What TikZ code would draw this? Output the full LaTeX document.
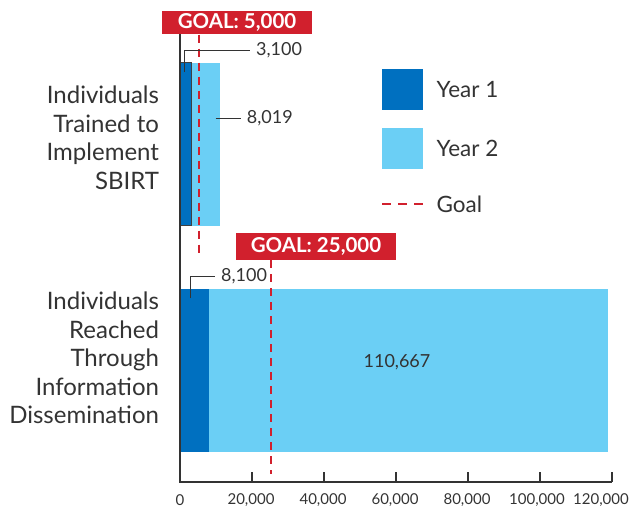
\documentclass[tikz,border=0pt]{standalone}
\usepackage{fontspec}
\setmainfont{Lato}
\usetikzlibrary{positioning}
\definecolor{yearone}{HTML}{0070C0}
\definecolor{yeartwo}{HTML}{6BCFF5}
\definecolor{goalred}{HTML}{D1202D}
\definecolor{inkgray}{HTML}{333333}
\tikzset{
	goalline/.style={goalred, line width=2.6pt, dash pattern=on 8pt off 6pt},
	goalbox/.style={fill=goalred, text=white, inner sep=0pt, font=\bfseries\fontsize{20.5}{20.5}\selectfont},
	catlabel/.style={align=right, anchor=east, text=inkgray, font=\fontsize{24}{28.5}\selectfont},
	valuelabel/.style={text=inkgray, inner xsep=6pt, font=\fontsize{18}{18}\selectfont},
	leader/.style={inkgray, line width=1pt},
	ticklabel/.style={text=inkgray, font=\fontsize{15}{15}\selectfont},
	legendtext/.style={text=inkgray, font=\fontsize{22.5}{22.5}\selectfont},
}

\begin{document}
\begin{tikzpicture}[x=1pt, y=-1pt]
		%%%%% START %%%%%
		\useasboundingbox (0,0) rectangle (631,509);
		
		% bars
		\draw[fill=yeartwo, draw=none] (180,62.7) rectangle (220,225.7);
		\draw[fill=yearone, draw=black!75, line width=0.8pt] (180,62.7) rectangle (191.2,225.7);
		\draw[fill=yeartwo, draw=none] (180,289) rectangle (607.6,451.7);
		\draw[fill=yearone, draw=none] (180,289) rectangle (209.2,451.7);
		
		% category labels
		\node[catlabel] (trained) at (162.5,138) {Individuals\\Trained to\\Implement\\SBIRT};
		\node[catlabel] (reached) at (162.5,358) {Individuals\\Reached\\Through\\Information\\Dissemination};
		
		% goals
		\node[goalbox, minimum width=150pt, minimum height=23.3pt] (goalone) at (237,22.7) {GOAL: 5,000};
		\node[goalbox, minimum width=160pt, minimum height=26.7pt] (goaltwo) at (316,246.7) {GOAL: 25,000};
		\coordinate (goalonefoot) at (199,258);
		\coordinate (goaltwofoot) at (271,474);
		\draw[goalline] (goalonefoot |- goalone.south) -- (goalonefoot);
		\draw[goalline] (goaltwofoot |- goaltwo.south) -- (goaltwofoot);
		
		% axis
		\draw[inkgray, line width=1.2pt] (180,34) -- (180,482) -- (612,482);
		\foreach \x/\t in {252/{20,000}, 324/{40,000}, 396/{60,000}, 468/{80,000}, 540/{100,000}, 612/{120,000}}{
			\draw[inkgray, line width=1.2pt] (\x,472) -- (\x,482);
		}
		\foreach \x/\t in {180/0, 251/{20,000}, 323/{40,000}, 395/{60,000}, 467/{80,000}, 537/{100,000}, 601/{120,000}}{
			\node[ticklabel] (tick\x) at (\x,500) {\t};
		}
		
		% values
		\node[valuelabel, anchor=west] (valthree) at (250,50) {3,100};
		\coordinate (tipthree) at (184.3,72);
		\draw[leader] (tipthree) |- (valthree.west);
		
		\node[valuelabel, anchor=west] (valeight) at (240.7,118) {8,019};
		\coordinate (tipeight) at (215.7,118);
		\draw[leader] (tipeight) -- (valeight.west);
		
		\node[valuelabel, anchor=west] (valeightone) at (215,276) {8,100};
		\coordinate (tipeightone) at (190,298);
		\draw[leader] (tipeightone) |- (valeightone.west);
		
		\node[valuelabel] (valbig) at (397,361.7) {110,667};
		
		% legend
		\node[fill=yearone, minimum size=41pt, inner sep=0pt] (keyone) at (402.5,89.7) {};
		\node[legendtext, right=10pt of keyone] (keyonetext) {Year 1};
		\node[fill=yeartwo, minimum size=41pt, inner sep=0pt] (keytwo) at (402.5,148.5) {};
		\node[legendtext, right=10pt of keytwo] (keytwotext) {Year 2};
		\coordinate (keygoalw) at (382,204);
		\coordinate (keygoale) at (423,204);
		\draw[goalline, dash pattern=on 9pt off 7pt] (keygoalw) -- (keygoale);
		\node[legendtext, right=10pt of keygoale] (keygoaltext) {Goal};
		
		%%%%% END %%%%%
	\end{tikzpicture}
\end{document}
